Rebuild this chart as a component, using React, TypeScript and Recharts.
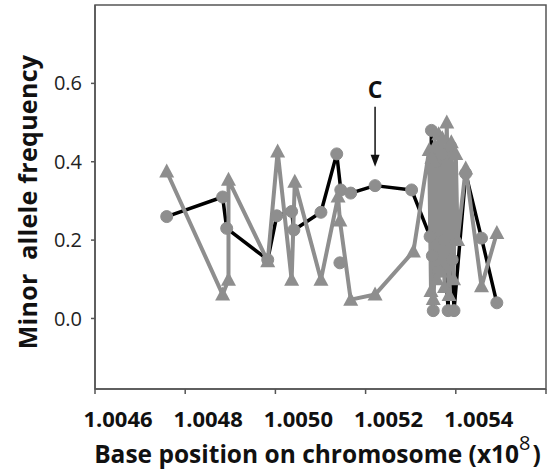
import { LineChart, Line, XAxis, YAxis, ReferenceDot, ReferenceArea, Label } from 'recharts';

const GREY = '#8e8e8e';
const AXIS = '#555';
const FONT = '"Open Sans", "DejaVu Sans", sans-serif';

// axis ranges (x in units of 10^8 bp)
const X_DOMAIN = [1.0046, 1.0056];
const Y_DOMAIN = [-0.18, 0.8];
const X_TICKS = [1.0046, 1.0048, 1.005, 1.0052, 1.0054, 1.0056];
const Y_TICKS = [0, 0.2, 0.4, 0.6];

// black line, circle markers
const POS_BLACK = [
  1.004759, 1.004883, 1.004892, 1.004983, 1.005003, 1.005036, 1.005041, 1.005101,
  1.005136, 1.005145, 1.005167, 1.005221, 1.005302, 1.005343, 1.005346, 1.005348,
  1.00535, 1.005356, 1.005362, 1.005368, 1.005374, 1.005383, 1.005388, 1.005392,
  1.005396, 1.005422, 1.005457, 1.005491,
];
const MAF_BLACK = [
  0.26, 0.31, 0.23, 0.15, 0.262, 0.273, 0.226, 0.271,
  0.42, 0.328, 0.32, 0.339, 0.328, 0.209, 0.48, 0.16,
  0.02, 0.4, 0.12, 0.42, 0.2, 0.02, 0.44, 0.15,
  0.02, 0.37, 0.205, 0.04,
];

// grey line, triangle markers
const POS_GREY = [
  1.004759, 1.004883, 1.004896, 1.004896, 1.004983, 1.005005, 1.005036, 1.005043,
  1.005101, 1.005139, 1.005143, 1.005167, 1.005221, 1.005306, 1.005341, 1.005345,
  1.005347, 1.00535, 1.005354, 1.005358, 1.005362, 1.005366, 1.00537, 1.005375,
  1.00538, 1.005385, 1.00539, 1.005395, 1.0054, 1.005404, 1.005422, 1.005457,
  1.005491,
];
const MAF_GREY = [
  0.375, 0.061, 0.099, 0.354, 0.146, 0.426, 0.099, 0.349,
  0.099, 0.311, 0.25, 0.048, 0.061, 0.171, 0.43, 0.07,
  0.41, 0.05, 0.44, 0.1, 0.47, 0.12, 0.46, 0.08,
  0.5, 0.06, 0.45, 0.1, 0.42, 0.2, 0.383, 0.082,
  0.218,
];

// loose circles without a line
const POS_DOT = [1.005143];
const MAF_DOT = [0.142];

// SNP marked "C"
const C_INDEX = 11;

const toRows = (pos: number[], maf: number[]) => pos.map((p, i) => ({ pos: p, maf: maf[i] }));
const blackData = toRows(POS_BLACK, MAF_BLACK);
const greyData = toRows(POS_GREY, MAF_GREY);
const dotData = toRows(POS_DOT, MAF_DOT);

const Triangle = (props: any) => {
  const { cx, cy, index } = props;
  if (cx == null || cy == null) return <g key={index} />;
  return (
    <path
      key={index}
      d={`M${cx},${cy - 8} L${cx - 7.5},${cy + 6} L${cx + 7.5},${cy + 6} Z`}
      fill={GREY}
    />
  );
};

const XTick = ({ x, y, payload }: any) => {
  if (payload.value >= X_TICKS[X_TICKS.length - 1]) return <g />;
  return (
    <text x={x + 23} y={y} dy="0.71em" textAnchor="middle" fontSize={22}
      fontWeight={700} fill="#111" fontFamily={FONT}>
      {payload.value.toFixed(4)}
    </text>
  );
};

const XTitle = ({ viewBox }: any) => (
  <text x={viewBox.x + viewBox.width / 2 - 3} y={viewBox.y + 74} textAnchor="middle"
    fontSize={24.5} fontWeight={700} fill="#111" fontFamily={FONT}>
    Base position on chromosome (x10
    <tspan dy={-13} fontSize={20} fontWeight={400}>8</tspan>
    <tspan dy={13} dx={2}>)</tspan>
  </text>
);

const YTitle = ({ viewBox }: any) => {
  const cx = viewBox.x + 27;
  const cy = viewBox.y + viewBox.height / 2 + 5;
  return (
    <text x={cx} y={cy} transform={`rotate(-90, ${cx}, ${cy})`} textAnchor="middle"
      dominantBaseline="central" fontSize={25} letterSpacing={0.3} fontWeight={700}
      fill="#111" fontFamily={FONT} style={{ whiteSpace: 'pre' }}>
      {'Minor  allele frequency'}
    </text>
  );
};

const Marker = ({ cx, cy }: any) => (
  <g>
    <text x={cx} y={cy - 88} textAnchor="middle" fontSize={23} fontWeight={700}
      fill="#111" fontFamily={FONT}>C</text>
    <line x1={cx} y1={cy - 79} x2={cx} y2={cy - 28} stroke="#111" strokeWidth={1.5} />
    <path d={`M${cx},${cy - 19} L${cx - 4.5},${cy - 31} L${cx + 4.5},${cy - 31} Z`} fill="#111" />
  </g>
);

export default function App() {
  return (
    <div style={{ position: 'absolute', left: 0, top: 0, background: '#fff' }}>
      <LineChart width={559} height={469} margin={{ top: 5, right: 13, bottom: 0, left: 0 }}>
        <XAxis
          dataKey="pos"
          type="number"
          domain={X_DOMAIN}
          ticks={X_TICKS}
          height={80}
          stroke={AXIS}
          strokeWidth={1.5}
          tickSize={5}
          tickMargin={17}
          tick={<XTick />}
          allowDataOverflow
        >
          <Label content={<XTitle />} />
        </XAxis>
        <YAxis
          type="number"
          domain={Y_DOMAIN}
          ticks={Y_TICKS}
          width={95}
          stroke={AXIS}
          strokeWidth={1.5}
          tickSize={4}
          tickMargin={9}
          tickFormatter={(v: number) => v.toFixed(1)}
          tick={{ fontSize: 20, fill: '#222', fontFamily: FONT }}
          allowDataOverflow
        >
          <Label content={<YTitle />} />
        </YAxis>
        {/* plot frame */}
        <ReferenceArea
          x1={X_DOMAIN[0]}
          x2={X_DOMAIN[1]}
          y1={Y_DOMAIN[0]}
          y2={Y_DOMAIN[1]}
          fill="none"
          fillOpacity={0}
          stroke={AXIS}
          strokeWidth={1.5}
          strokeOpacity={1}
        />
        <Line
          data={blackData}
          dataKey="maf"
          type="linear"
          stroke="#000"
          strokeWidth={3.5}
          strokeLinejoin="round"
          dot={{ r: 6, fill: GREY, stroke: GREY, strokeWidth: 1 }}
          isAnimationActive={false}
        />
        <Line
          data={dotData}
          dataKey="maf"
          type="linear"
          stroke="none"
          dot={{ r: 6, fill: GREY, stroke: GREY, strokeWidth: 1 }}
          isAnimationActive={false}
        />
        <Line
          data={greyData}
          dataKey="maf"
          type="linear"
          stroke={GREY}
          strokeWidth={4}
          strokeLinejoin="round"
          dot={<Triangle />}
          isAnimationActive={false}
        />
        <ReferenceDot
          x={POS_BLACK[C_INDEX]}
          y={MAF_BLACK[C_INDEX]}
          r={0}
          shape={<Marker />}
        />
      </LineChart>
    </div>
  );
}
